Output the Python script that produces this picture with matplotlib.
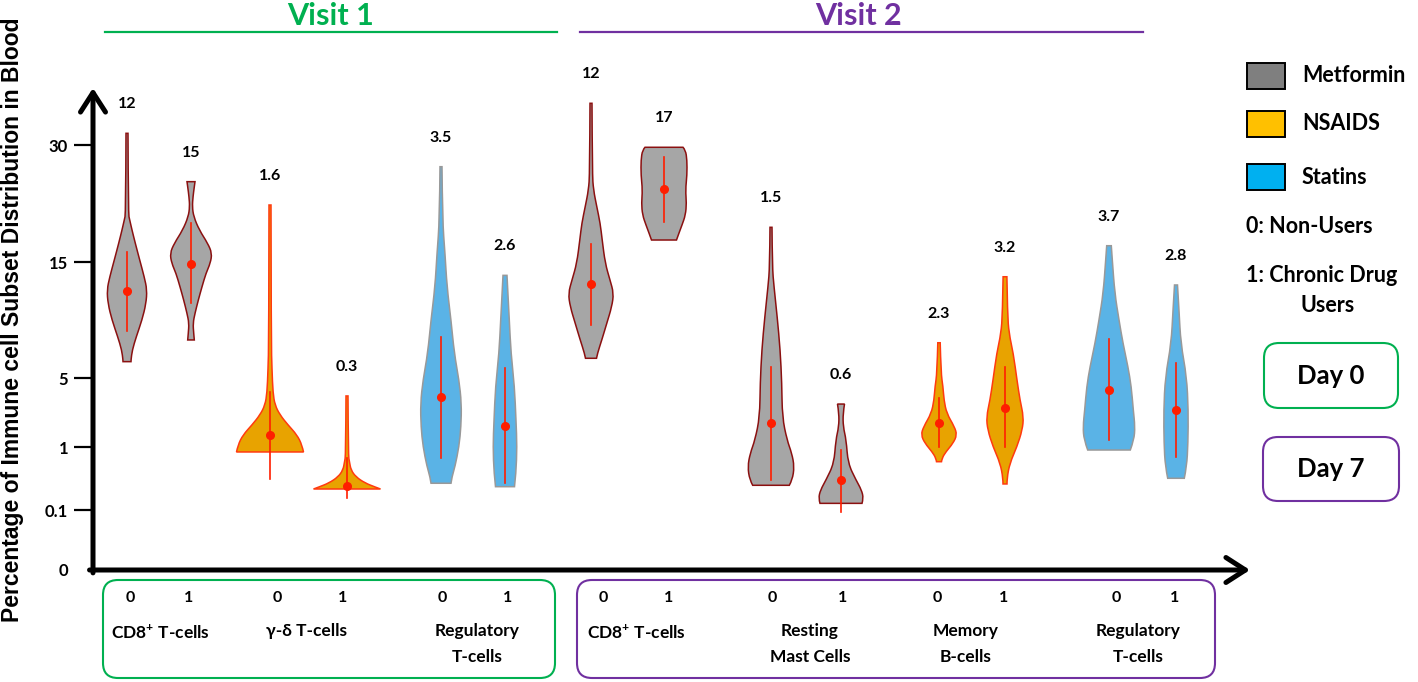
import numpy as np
import matplotlib
matplotlib.use('Agg')
import matplotlib.pyplot as plt
from matplotlib.patches import FancyBboxPatch, Rectangle, PathPatch
from matplotlib.path import Path

plt.rcParams['font.family'] = ['Lato', 'DejaVu Sans']
plt.rcParams['mathtext.fontset'] = 'custom'
plt.rcParams['mathtext.rm'] = 'Lato:bold'
plt.rcParams['mathtext.bf'] = 'Lato:bold'

# ---- data ----
drug = ['Metformin', 'Metformin', 'NSAIDS', 'NSAIDS', 'Statins', 'Statins',
        'Metformin', 'Metformin', 'Metformin', 'Metformin', 'NSAIDS', 'NSAIDS',
        'Statins', 'Statins']
median_text = ['12', '15', '1.6', '0.3', '3.5', '2.6',
               '12', '17', '1.5', '0.6', '2.3', '3.2', '3.7', '2.8']

# violin outlines, top to bottom: value and half width
violin_vals = [
    [31.5, 21.2, 20.4, 19.1, 17.4, 15.26, 13.7, 12.6, 11.4, 10.0, 8.56, 7.41, 6.55, 6.41],
    [25.3, 24.65, 23.37, 22.09, 20.81, 19.10, 17.40, 16.12, 14.89, 14.03, 12.87, 11.72, 10.58, 9.72, 8.85, 8.28],
    [22.31, 8.28, 5.69, 4.13, 3.43, 2.86, 2.28, 1.70, 1.12, 0.929],
    [3.96, 0.886, 0.786, 0.671, 0.572, 0.486, 0.429, 0.40],
    [27.22, 20.38, 16.12, 12.87, 10.0, 7.13, 4.88, 3.53, 2.18, 1.02, 0.719, 0.576, 0.482],
    [13.85, 10.0, 7.13, 4.50, 2.57, 1.02, 0.624, 0.433],
    [35.35, 26.37, 24.23, 22.09, 19.96, 17.82, 14.89, 13.45, 12.30, 11.15, 9.72, 8.28, 7.13, 6.70],
    [29.71, 29.36, 28.08, 26.15, 24.23, 22.56, 21.03, 19.74, 18.72, 17.82],
    [19.45, 14.60, 12.87, 10.28, 7.41, 4.69, 2.74, 1.41, 0.910, 0.719, 0.529, 0.453],
    [3.49, 2.95, 2.18, 1.41, 0.767, 0.529, 0.386, 0.267, 0.195],
    [8.04, 5.41, 4.50, 3.72, 2.95, 2.18, 1.70, 1.21, 0.933, 0.839, 0.790],
    [13.73, 10.58, 8.85, 7.13, 4.88, 3.72, 2.74, 1.99, 1.02, 0.767, 0.553, 0.472],
    [17.09, 15.26, 12.30, 10.0, 7.99, 5.97, 4.50, 3.14, 2.18, 1.41, 0.957],
    [13.02, 10.86, 7.99, 5.11, 3.14, 1.21, 0.719, 0.553],
]
violin_hw = [
    [1, 1.3, 2.7, 5, 8.3, 12.7, 17.3, 20, 19, 15, 9.3, 5.3, 4, 4],
    [4, 3.3, 2, 1.3, 2.7, 8.3, 16.7, 21, 19.3, 15, 11, 7.3, 4, 2, 2.7, 3.3],
    [1, 1.2, 2, 3, 5, 10, 18, 27, 32, 33.5],
    [1, 1.3, 2.5, 4, 9, 18, 28, 33.5],
    [1, 1.5, 4, 6, 10, 13.3, 18, 20.5, 20, 18, 14, 11, 10],
    [2, 4.3, 6, 9.5, 11, 12, 11, 9.5],
    [1, 1.3, 2.5, 5.8, 9.2, 11.2, 14.2, 19, 22.7, 20.8, 15.8, 10.8, 6.5, 5.5],
    [19, 21.5, 23, 23, 21.5, 22.5, 21.5, 18, 15, 12.5],
    [1, 1.3, 3, 6.2, 9.2, 10.8, 11.3, 16, 20.8, 23.3, 21.3, 18.3],
    [3.5, 2, 2.2, 5.2, 7, 15, 20.5, 22.5, 21],
    [1.2, 2, 4, 5, 7.7, 15.4, 18, 14, 7, 3, 2.5],
    [1.9, 2.5, 4, 8.3, 12, 15, 18.6, 17.3, 12, 4.8, 2, 2],
    [2.3, 3.3, 5.8, 10, 14, 19, 22.3, 24.3, 26, 25, 21.3],
    [1.5, 3, 4.8, 10.7, 12.3, 12, 10.7, 8.3],
]
medians = [12.5, 14.83, 1.68, 0.447, 3.88, 2.23, 13.10, 24.36, 2.37, 0.529, 2.41, 3.28, 4.30, 3.14]
whisker_lo = [9.08, 11.44, 0.539, 0.271, 0.839, 0.49, 9.57, 20.17, 0.529, 0.0972, 1.02, 0.996, 1.41, 0.862]
whisker_hi = [16.3, 19.96, 4.21, 0.843, 8.56, 5.84, 17.31, 28.42, 5.98, 0.957, 3.82, 5.92, 8.34, 6.27]

y_ticks = [0, 0.1, 1, 5, 15, 30]
y_ticklabels = ['0', '0.1', '1', '5', '15', '30']

group_codes = ['0', '1'] * 7
visit1_cells = ['CD8$^{\\mathbf{+}}$ T-cells', '\u03b3-\u03b4 T-cells', 'Regulatory\nT-cells']
visit2_cells = ['CD8$^{\\mathbf{+}}$ T-cells', 'Resting\nMast Cells', 'Memory\nB-cells', 'Regulatory\nT-cells']

# ---- layout / style ----
positions = [34, 98, 177, 254, 348, 412, 498, 571, 678, 748, 846, 912, 1016, 1083]
fill_col = {'Metformin': '#A6A6A6', 'NSAIDS': '#E8A300', 'Statins': '#5AB3E6'}
edge_col = {'Metformin': '#8B1010', 'NSAIDS': '#FF3A10', 'Statins': '#999999'}
legend_col = {'Metformin': '#7F7F7F', 'NSAIDS': '#FFC000', 'Statins': '#00B0F0'}
green = '#00B050'
purple = '#7030A0'
red = '#FF1E00'

# piecewise axis used by the original chart
scale_vals = [0, 0.1, 1, 5, 15, 30, 45]
scale_pos = [0, 60, 123, 192, 308, 425, 542]


def fwd(v):
    return np.interp(v, scale_vals, scale_pos)


def inv(p):
    return np.interp(p, scale_pos, scale_vals)


def side_path(xs, ys):
    # smooth outline through the read points (quadratic bezier segments)
    verts = [(xs[0], ys[0])]
    codes = [Path.LINETO]
    n = len(xs)
    if n <= 2:
        verts.append((xs[-1], ys[-1]))
        codes.append(Path.LINETO)
        return verts, codes
    for k in range(1, n - 1):
        mx = (xs[k] + xs[k + 1]) / 2
        my = float(inv((fwd(ys[k]) + fwd(ys[k + 1])) / 2))
        if k == n - 2:
            mx, my = xs[-1], ys[-1]
        verts += [(xs[k], ys[k]), (mx, my)]
        codes += [Path.CURVE3, Path.CURVE3]
    return verts, codes


def violin_patch(x, yv, hw, **kw):
    rv, rc = side_path(list(x + hw), list(yv))
    lv, lc = side_path(list(x - hw)[::-1], list(yv)[::-1])
    verts = rv + lv + [rv[0]]
    codes = [Path.MOVETO] + rc[1:] + [Path.LINETO] + lc[1:] + [Path.CLOSEPOLY]
    return PathPatch(Path(verts, codes), **kw)


W, H = 1418, 682
fig = plt.figure(figsize=(W / 100, H / 100), dpi=100)


def fx(x):
    return x / W


def fy(y):
    return 1 - y / H


ax = fig.add_axes([fx(93), fy(570), (1250 - 93) / W, (570 - 88) / H])
ax.set_yscale('function', functions=(fwd, inv))
ax.set_xlim(0, 1157)
ax.set_ylim(0, 37.31)

for i in range(len(positions)):
    x = positions[i]
    yv = np.array(violin_vals[i])
    hw = np.array(violin_hw[i])
    d = drug[i]
    ax.add_patch(violin_patch(x, yv, hw, facecolor=fill_col[d], edgecolor=edge_col[d],
                              linewidth=1.1, zorder=2))
    ax.plot([x, x], [whisker_lo[i], whisker_hi[i]], color=red, lw=1.2, zorder=3)
    ax.plot(x, medians[i], 'o', color=red, ms=5.5, mec=red, zorder=4)
    ax.annotate(median_text[i], (x, yv[0]), xytext=(0, 21), textcoords='offset points',
                ha='center', va='center', fontsize=11.5, fontweight='bold')

for s in ax.spines.values():
    s.set_visible(False)
ax.set_xticks([])
ax.set_yticks(y_ticks)
ax.set_yticklabels(y_ticklabels, fontsize=12, fontweight='bold')
ax.tick_params(axis='y', length=14, width=1.6, pad=4)
ax.yaxis.get_major_ticks()[0].tick1line.set_visible(False)

arrow = dict(arrowstyle='->,head_length=0.7,head_width=0.45', lw=3.6, color='black',
             mutation_scale=20, shrinkA=0, shrinkB=0)
ax.annotate('', xy=(0, 1.0), xytext=(0, -0.006), xycoords='axes fraction', arrowprops=arrow)
ax.annotate('', xy=(1.0, 0), xytext=(-0.003, 0), xycoords='axes fraction', arrowprops=arrow)

fig.text(fx(13), fy(320), 'Percentage of Immune cell Subset Distribution in Blood',
         rotation=90, ha='center', va='center', fontsize=16.5, fontweight='bold',
         family='Liberation Sans')

# visit headers
fig.text(fx(331), fy(16), 'Visit 1', color=green, ha='center', va='center',
         fontsize=22, fontweight='bold')
fig.text(fx(858), fy(16), 'Visit 2', color=purple, ha='center', va='center',
         fontsize=22, fontweight='bold')
fig.add_artist(plt.Line2D([fx(105), fx(557)], [fy(32), fy(32)], color=green, lw=1.6))
fig.add_artist(plt.Line2D([fx(580), fx(1143)], [fy(32), fy(32)], color=purple, lw=1.6))


def rbox(x0, y0, x1, y1, col):
    b = FancyBboxPatch((x0 / 100, (H - y1) / 100), (x1 - x0) / 100, (y1 - y0) / 100,
                       boxstyle='round,pad=0,rounding_size=0.15', fill=False,
                       ec=col, lw=1.5, transform=fig.dpi_scale_trans)
    fig.add_artist(b)


# bottom group boxes and labels
rbox(103, 580, 555, 678, green)
rbox(577, 580, 1215, 678, purple)
code_x = [130, 189, 277, 343, 442, 508, 603, 669, 772, 843, 937, 1004, 1116, 1175]
for cx, c in zip(code_x, group_codes):
    fig.text(fx(cx), fy(598), c, ha='center', va='center', fontsize=11.5, fontweight='bold')
cell_x = [160, 306, 477, 636, 810, 966, 1138]
for cx, c in zip(cell_x, visit1_cells + visit2_cells):
    fig.text(fx(cx), fy(623), c, ha='center', va='top', fontsize=12.5, fontweight='bold',
             linespacing=1.75)

# legend
leg_y = [76, 124, 177]
for ly, name in zip(leg_y, ['Metformin', 'NSAIDS', 'Statins']):
    fig.add_artist(Rectangle((1247 / 100, (H - ly - 13) / 100), 38 / 100, 26 / 100,
                             fc=legend_col[name], ec='black', lw=1.4,
                             transform=fig.dpi_scale_trans))
    fig.text(fx(1302), fy(ly), name, ha='left', va='center', fontsize=15.5, fontweight='bold')
fig.text(fx(1246), fy(227), '0: Non-Users', ha='left', va='center', fontsize=15.5, fontweight='bold')
fig.text(fx(1246), fy(275), '1: Chronic Drug', ha='left', va='center', fontsize=15.5, fontweight='bold')
fig.text(fx(1328), fy(305), 'Users', ha='center', va='center', fontsize=15.5, fontweight='bold')
rbox(1264, 343, 1398, 408, green)
rbox(1263, 437, 1399, 501, purple)
fig.text(fx(1331), fy(376), 'Day 0', ha='center', va='center', fontsize=18.5, fontweight='bold')
fig.text(fx(1331), fy(469), 'Day 7', ha='center', va='center', fontsize=18.5, fontweight='bold')

fig.savefig('out.png', dpi=100)
